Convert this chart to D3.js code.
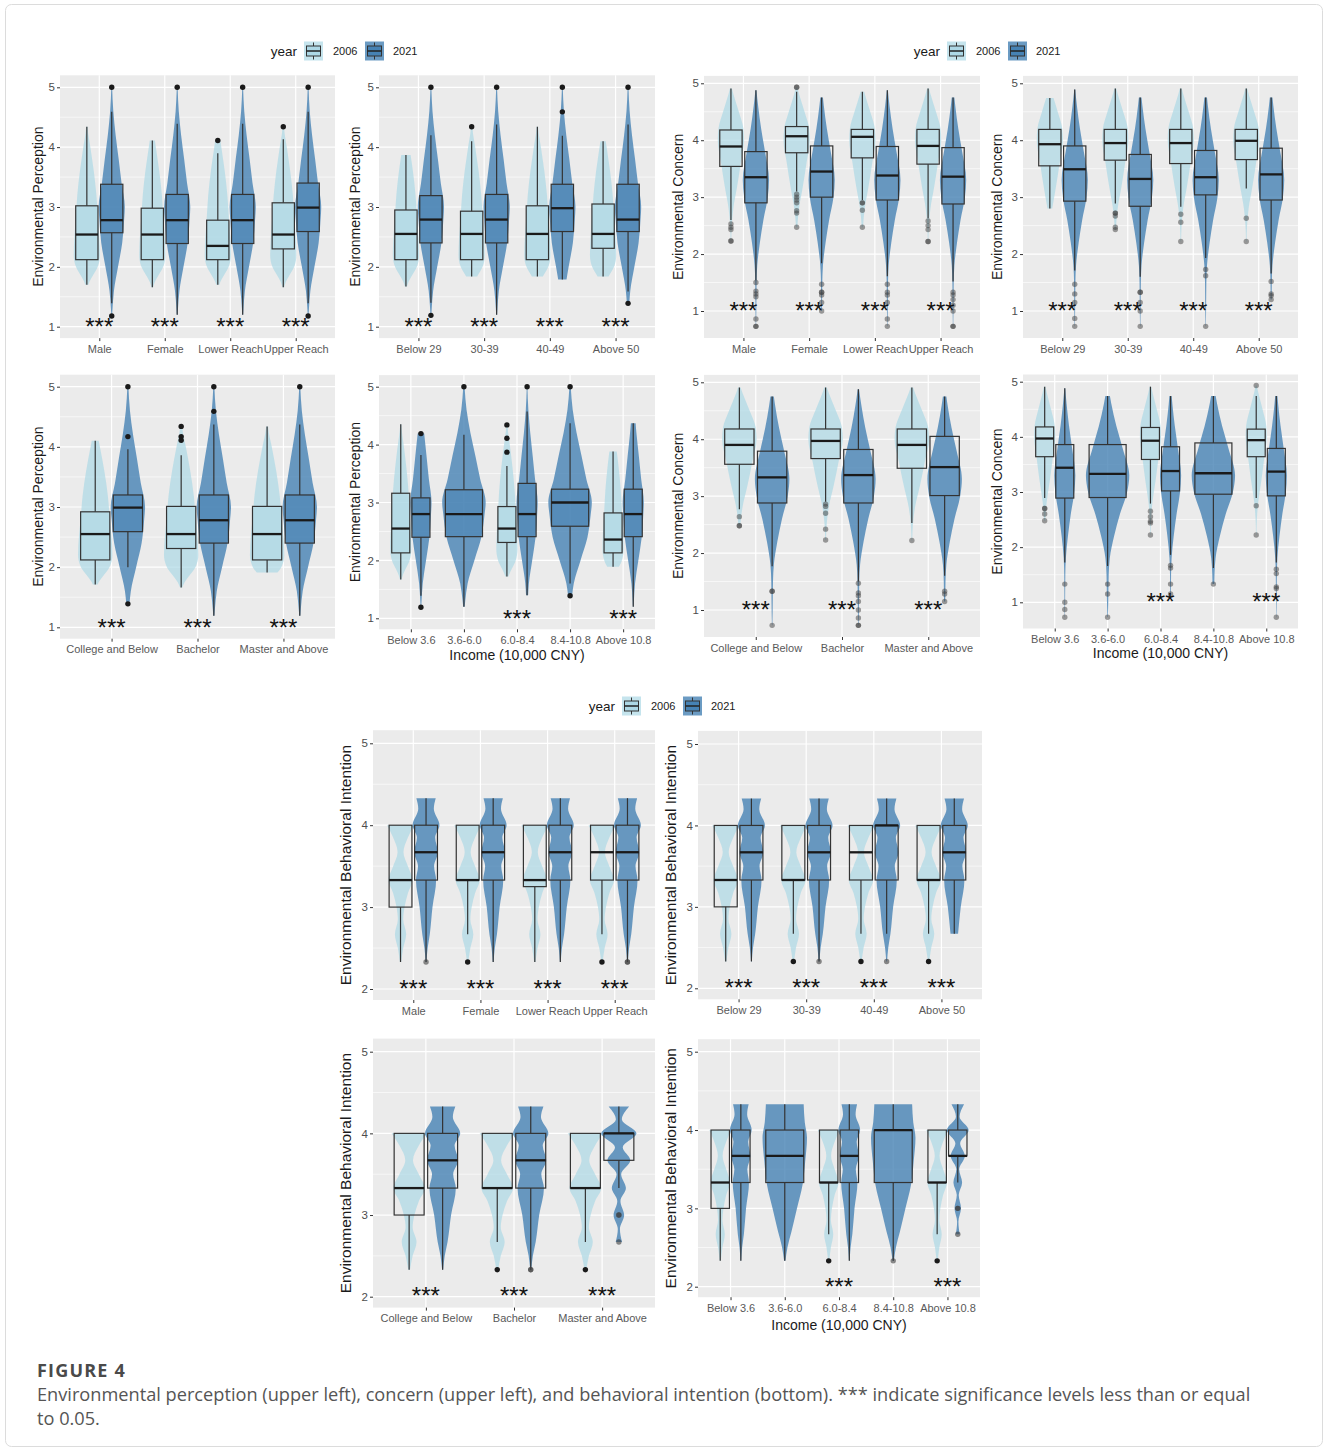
<!DOCTYPE html>
<html>
<head>
<meta charset="utf-8">
<script src="https://cdn.jsdelivr.net/npm/d3@7"></script>
<style>
  body { margin: 0; background: #fff; }
  svg text { font-family: "Liberation Sans", Arial, Helvetica, sans-serif; }
</style>
</head>
<body>
<svg id="fig" width="1328" height="1452"></svg>
<script>
// ---------- data (box stats are [lowWhisker, q1, median, q3, highWhisker]) ----------
const genderCats = ['Male', 'Female', 'Lower Reach', 'Upper Reach'];
const ageCats = ['Below 29', '30-39', '40-49', 'Above 50'];
const eduCats = ['College and Below', 'Bachelor', 'Master and Above'];
const incomeCats = ['Below 3.6', '3.6-6.0', '6.0-8.4', '8.4-10.8', 'Above 10.8'];
const incomeStars = ['6.0-8.4', 'Above 10.8'];

// Environmental perception
const percGender2006 = [[1.70, 2.12, 2.54, 3.02, 4.34], [1.66, 2.12, 2.54, 2.98, 4.11], [1.70, 2.12, 2.35, 2.78, 3.90], [1.66, 2.30, 2.54, 3.07, 4.13]];
const percGender2021 = [[1.39, 2.57, 2.78, 3.38, 4.59], [1.20, 2.39, 2.78, 3.21, 4.39], [1.20, 2.39, 2.78, 3.21, 4.39], [1.39, 2.59, 2.99, 3.40, 4.59]];
const percGenderOut2006 = [[], [], [4.11], [4.34]];
const percGenderOut2021 = [[5.0, 1.18], [5.0], [5.0], [5.0, 1.18]];

const percAge2006 = [[1.67, 2.12, 2.55, 2.95, 3.87], [1.84, 2.12, 2.55, 2.93, 4.10], [1.84, 2.12, 2.55, 3.02, 4.34], [1.84, 2.31, 2.55, 3.05, 4.10]];
const percAge2021 = [[1.40, 2.40, 2.79, 3.19, 4.20], [1.20, 2.40, 2.79, 3.21, 4.38], [1.79, 2.59, 2.98, 3.38, 4.19], [1.59, 2.59, 2.79, 3.38, 4.38]];
const percAgeOut2006 = [[], [4.34], [], []];
const percAgeOut2021 = [[5.0, 1.19], [5.0], [5.0, 4.59], [5.0, 1.39]];

const percEdu2006 = [[1.71, 2.12, 2.55, 2.92, 4.10], [1.66, 2.31, 2.55, 3.01, 3.86], [1.91, 2.12, 2.55, 3.01, 4.34]];
const percEdu2021 = [[2.00, 2.59, 2.99, 3.20, 3.96], [1.19, 2.40, 2.78, 3.20, 4.37], [1.19, 2.40, 2.78, 3.20, 4.37]];
const percEduOut2006 = [[], [4.34, 4.17, 4.11], []];
const percEduOut2021 = [[5.0, 4.17, 1.39], [5.0, 4.59], [5.0]];

const percInc2006 = [[1.67, 2.13, 2.55, 3.16, 4.35], null, [1.72, 2.31, 2.55, 2.93, 3.63], null, [1.89, 2.13, 2.36, 2.82, 3.88]];
const percInc2021 = [[1.39, 2.40, 2.80, 3.08, 3.82], [1.20, 2.41, 2.80, 3.22, 4.17], [1.40, 2.41, 2.80, 3.33, 4.57], [1.60, 2.59, 3.00, 3.23, 4.37], [1.20, 2.41, 2.80, 3.23, 4.37]];
const percIncOut2006 = [[], [], [4.34, 4.11, 3.87], [], []];
const percIncOut2021 = [[4.19, 1.19], [5.0], [5.0], [5.0, 1.39], []];

// Environmental concern
const concGender2006 = [[2.60, 3.54, 3.89, 4.18, 4.91], [3.10, 3.78, 4.07, 4.24, 4.85], [2.95, 3.69, 4.06, 4.19, 4.85], [2.63, 3.58, 3.90, 4.19, 4.91]];
const concGender2021 = [[1.54, 2.90, 3.35, 3.80, 4.88], [1.84, 3.00, 3.45, 3.90, 4.75], [1.61, 2.95, 3.38, 3.89, 4.88], [1.52, 2.88, 3.36, 3.87, 4.75]];
const concGenderOut2006 = [[2.53, 2.47, 2.43, 2.23, 2.23], [4.93, 4.93, 3.05, 3.0, 2.95, 2.9, 2.76, 2.72, 2.47], [2.9, 2.9, 2.77, 2.47], [2.58, 2.5, 2.43, 2.22, 2.22]];
const concGenderOut2021 = [[1.5, 1.35, 1.3, 1.25, 0.86, 0.73, 0.73], [1.47, 1.33, 1.33, 1.28, 1.15, 1.0], [1.47, 1.33, 1.28, 1.15, 0.86, 0.73], [1.33, 1.28, 1.2, 1.1, 1.0, 0.73, 0.73]];

const concAge2006 = [[2.80, 3.55, 3.93, 4.19, 4.74], [2.89, 3.65, 3.95, 4.19, 4.91], [2.83, 3.59, 3.95, 4.19, 4.91], [3.15, 3.66, 3.99, 4.19, 4.91]];
const concAge2021 = [[1.71, 2.93, 3.49, 3.90, 4.89], [1.60, 2.84, 3.32, 3.75, 4.75], [1.93, 3.04, 3.35, 3.82, 4.75], [1.66, 2.95, 3.40, 3.86, 4.75]];
const concAgeOut2006 = [[], [2.72, 2.72, 2.67, 2.47, 2.43], [2.7, 2.56, 2.22], [2.63, 2.22]];
const concAgeOut2021 = [[1.47, 1.3, 1.15, 0.87, 0.73], [1.33, 1.33, 1.15, 1.0, 0.73], [1.73, 1.62, 0.73], [1.52, 1.3, 1.27, 1.2]];

const concEdu2006 = [[2.77, 3.56, 3.90, 4.18, 4.91], [2.90, 3.66, 3.97, 4.18, 4.91], [2.53, 3.49, 3.90, 4.18, 4.91]];
const concEdu2021 = [[1.77, 2.88, 3.33, 3.79, 4.75], [1.50, 2.88, 3.37, 3.82, 4.88], [1.60, 3.01, 3.51, 4.05, 4.75]];
const concEduOut2006 = [[2.64, 2.48, 2.48], [2.86, 2.82, 2.7, 2.42, 2.23], [2.22]];
const concEduOut2021 = [[1.33, 1.33, 0.73], [1.47, 1.3, 1.25, 1.15, 1.0, 0.86, 0.73, 0.73], [1.33, 1.28, 1.15]];

const concInc2006 = [[2.89, 3.64, 3.97, 4.18, 4.91], null, [2.79, 3.59, 3.93, 4.17, 4.91], null, [2.89, 3.64, 3.94, 4.14, 4.74]];
const concInc2021 = [[1.72, 2.89, 3.44, 3.86, 4.88], [1.66, 2.90, 3.33, 3.86, 4.74], [1.86, 3.02, 3.38, 3.82, 4.74], [1.62, 2.96, 3.34, 3.89, 4.74], [1.72, 2.93, 3.37, 3.79, 4.74]];
const concIncOut2006 = [[2.7, 2.7, 2.6, 2.48], [], [2.65, 2.55, 2.47, 2.44, 2.22], [], [4.93, 2.75, 2.22]];
const concIncOut2021 = [[1.33, 1.0, 0.87, 0.73], [1.33, 1.15, 0.73], [1.67, 1.62, 1.33, 1.15], [1.33], [1.6, 1.52, 1.28, 1.25, 0.73]];

// Environmental behavioral intention
const biGender2006 = [[2.33, 3.00, 3.33, 4.00, 4.00], [2.67, 3.33, 3.33, 4.00, 4.00], [2.33, 3.25, 3.33, 4.00, 4.00], [2.67, 3.33, 3.67, 4.00, 4.00]];
const biGender2021 = [[2.33, 3.33, 3.67, 4.00, 4.33], [2.33, 3.33, 3.67, 4.00, 4.33], [2.33, 3.33, 3.67, 4.00, 4.33], [2.33, 3.33, 3.67, 4.00, 4.33]];
const biGenderOut2006 = [[], [2.33], [], [2.33]];
const biGenderOut2021 = [[2.33], [], [], [2.33, 2.33]];

const biAge2006 = [[2.33, 3.00, 3.33, 4.00, 4.00], [2.67, 3.33, 3.33, 4.00, 4.00], [2.67, 3.33, 3.67, 4.00, 4.00], [2.67, 3.33, 3.33, 4.00, 4.00]];
const biAge2021 = [[2.33, 3.33, 3.67, 4.00, 4.33], [2.33, 3.33, 3.67, 4.00, 4.33], [2.67, 3.33, 4.00, 4.00, 4.33], [2.67, 3.33, 3.67, 4.00, 4.33]];
const biAgeOut2006 = [[], [2.33], [2.33], [2.33]];
const biAgeOut2021 = [[], [2.33], [2.33], []];

const biEdu2006 = [[2.33, 3.00, 3.33, 4.00, 4.00], [2.67, 3.33, 3.33, 4.00, 4.00], [2.67, 3.33, 3.33, 4.00, 4.00]];
const biEdu2021 = [[2.33, 3.33, 3.67, 4.00, 4.33], [2.33, 3.33, 3.67, 4.00, 4.33], [3.33, 3.67, 4.00, 4.00, 4.33]];
const biEduOut2006 = [[], [2.33], [2.33]];
const biEduOut2021 = [[], [2.33, 2.33], [3.0, 3.0, 2.67]];

const biInc2006 = [[2.33, 3.00, 3.33, 4.00, 4.00], null, [2.67, 3.33, 3.33, 4.00, 4.00], null, [2.67, 3.33, 3.33, 4.00, 4.00]];
const biInc2021 = [[2.33, 3.33, 3.67, 4.00, 4.33], [2.33, 3.33, 3.67, 4.00, 4.33], [2.33, 3.33, 3.67, 4.00, 4.33], [2.33, 3.33, 4.00, 4.00, 4.33], [3.33, 3.67, 3.67, 4.00, 4.33]];
const biIncOut2006 = [[], [], [2.33], [], [2.33]];
const biIncOut2021 = [[], [], [], [2.33], [3.0, 3.0, 2.67]];

// violin outlines: [score, relative width]
const percShape2006 = [[1.65, 0.05], [1.75, 0.2], [1.85, 0.45], [2.0, 0.83], [2.2, 1.0], [2.5, 0.95], [2.8, 0.85], [3.2, 0.73], [3.6, 0.53], [4.0, 0.27], [4.3, 0.07], [4.5, 0.02]];
const percShape2021 = [[1.15, 0.02], [1.3, 0.06], [1.6, 0.17], [2.0, 0.48], [2.4, 0.8], [2.8, 0.95], [3.0, 1.0], [3.4, 0.75], [3.8, 0.53], [4.2, 0.3], [4.6, 0.12], [5.0, 0.03]];
const concShape2006 = [[2.2, 0.02], [2.5, 0.06], [2.8, 0.18], [3.2, 0.48], [3.6, 0.75], [4.0, 1.0], [4.2, 0.95], [4.5, 0.6], [4.8, 0.2], [4.95, 0.03]];
const concShape2021 = [[0.7, 0.01], [1.0, 0.03], [1.5, 0.05], [1.8, 0.1], [2.2, 0.3], [2.6, 0.57], [3.0, 0.9], [3.3, 1.0], [3.8, 0.69], [4.2, 0.4], [4.6, 0.17], [4.9, 0.03]];
const biShape2006 = [[2.33, 0.05], [2.5, 0.2], [2.67, 0.42], [2.85, 0.2], [3.0, 0.3], [3.17, 0.55], [3.33, 0.9], [3.5, 0.55], [3.67, 0.22], [3.85, 0.55], [4.0, 1.0]];
const biShape2021 = [[2.33, 0.03], [2.5, 0.12], [2.67, 0.28], [3.0, 0.48], [3.33, 0.75], [3.5, 0.6], [3.67, 0.88], [3.85, 0.68], [4.0, 1.0], [4.2, 0.58], [4.33, 0.72]];
const biShapeWavy = [[2.67, 0.18], [2.83, 0.06], [3.0, 0.3], [3.17, 0.09], [3.33, 0.4], [3.5, 0.13], [3.67, 0.65], [3.83, 0.22], [4.0, 1.0], [4.17, 0.17], [4.33, 0.58]];
const biShapeSingle = [[2.33, 0.03], [2.5, 0.12], [2.7, 0.3], [3.0, 0.55], [3.3, 0.8], [3.6, 0.92], [3.9, 1.0], [4.1, 0.9], [4.33, 0.85]];

// ---------- drawing ----------
const FONT = '"Liberation Sans", Arial, Helvetica, sans-serif';
const svg = d3.select('#fig');
const c06 = '#add8e6', c21 = '#4682b4';

svg.append('rect').attr('x', 5.5).attr('y', 4.5).attr('width', 1317).attr('height', 1442)
  .attr('rx', 6).attr('fill', '#fff').attr('stroke', '#dcdcdc');

const percLook = { boxFill: true, dot06: ['#1a1a1a', 1], dot21: ['#1a1a1a', 1] };
const concLook = { boxFill: false, dot06: ['#404040', 0.5], dot21: ['#404040', 0.5] };
const biLook = { boxFill: false, dot06: ['#1a1a1a', 1], dot21: ['#404040', 0.6] };

const panels = [
  { x0: 60, x1: 335, y0: 75.3, y1: 338.1, tA: 5, pA: 87.3, tB: 1, pB: 326.7, ticks: [1, 2, 3, 4, 5], minor: [1.5, 2.5, 3.5, 4.5],
    cats: genderCats, s06: percGender2006, s21: percGender2021, o06: percGenderOut2006, o21: percGenderOut2021, stars: genderCats,
    sh06: percShape2006, sh21: percShape2021, shSingle: percShape2021, look: percLook, starY: 1.08, title: 'Environmental Perception', titleX: 38, titleSize: 14 },
  { x0: 379, x1: 655, y0: 75.3, y1: 338.1, tA: 5, pA: 87.3, tB: 1, pB: 326.7, ticks: [1, 2, 3, 4, 5], minor: [1.5, 2.5, 3.5, 4.5],
    cats: ageCats, s06: percAge2006, s21: percAge2021, o06: percAgeOut2006, o21: percAgeOut2021, stars: ageCats,
    sh06: percShape2006, sh21: percShape2021, shSingle: percShape2021, look: percLook, starY: 1.08, title: 'Environmental Perception', titleX: 355, titleSize: 14 },
  { x0: 60, x1: 335, y0: 374.7, y1: 638.7, tA: 5, pA: 386.7, tB: 1, pB: 627.3, ticks: [1, 2, 3, 4, 5], minor: [1.5, 2.5, 3.5, 4.5],
    cats: eduCats, s06: percEdu2006, s21: percEdu2021, o06: percEduOut2006, o21: percEduOut2021, stars: eduCats,
    sh06: percShape2006, sh21: percShape2021, shSingle: percShape2021, look: percLook, starY: 1.08, title: 'Environmental Perception', titleX: 38, titleSize: 14 },
  { x0: 379, x1: 655, y0: 375.1, y1: 629.3, tA: 5, pA: 386.7, tB: 1, pB: 618.3, ticks: [1, 2, 3, 4, 5], minor: [1.5, 2.5, 3.5, 4.5],
    cats: incomeCats, s06: percInc2006, s21: percInc2021, o06: percIncOut2006, o21: percIncOut2021, stars: incomeStars,
    sh06: percShape2006, sh21: percShape2021, shSingle: percShape2021, look: percLook, starY: 1.08, title: 'Environmental Perception', titleX: 355, titleSize: 14,
    xTitle: 'Income (10,000 CNY)', xTitleY: 655 },

  { x0: 704, x1: 980, y0: 75.9, y1: 338, tA: 5, pA: 83.3, tB: 1, pB: 311, ticks: [1, 2, 3, 4, 5], minor: [1.5, 2.5, 3.5, 4.5],
    cats: genderCats, s06: concGender2006, s21: concGender2021, o06: concGenderOut2006, o21: concGenderOut2021, stars: genderCats,
    sh06: concShape2006, sh21: concShape2021, shSingle: concShape2021, look: concLook, starY: 1.1, title: 'Environmental Concern', titleX: 678, titleSize: 14 },
  { x0: 1023, x1: 1298, y0: 75.9, y1: 338, tA: 5, pA: 83.3, tB: 1, pB: 311, ticks: [1, 2, 3, 4, 5], minor: [1.5, 2.5, 3.5, 4.5],
    cats: ageCats, s06: concAge2006, s21: concAge2021, o06: concAgeOut2006, o21: concAgeOut2021, stars: ageCats,
    sh06: concShape2006, sh21: concShape2021, shSingle: concShape2021, look: concLook, starY: 1.1, title: 'Environmental Concern', titleX: 997, titleSize: 14 },
  { x0: 704, x1: 980, y0: 374.9, y1: 637, tA: 5, pA: 382.3, tB: 1, pB: 610, ticks: [1, 2, 3, 4, 5], minor: [1.5, 2.5, 3.5, 4.5],
    cats: eduCats, s06: concEdu2006, s21: concEdu2021, o06: concEduOut2006, o21: concEduOut2021, stars: eduCats,
    sh06: concShape2006, sh21: concShape2021, shSingle: concShape2021, look: concLook, starY: 1.1, title: 'Environmental Concern', titleX: 678, titleSize: 14 },
  { x0: 1023, x1: 1298, y0: 374.5, y1: 628.5, tA: 5, pA: 381.7, tB: 1, pB: 602.3, ticks: [1, 2, 3, 4, 5], minor: [1.5, 2.5, 3.5, 4.5],
    cats: incomeCats, s06: concInc2006, s21: concInc2021, o06: concIncOut2006, o21: concIncOut2021, stars: incomeStars,
    sh06: concShape2006, sh21: concShape2021, shSingle: concShape2021, look: concLook, starY: 1.1, title: 'Environmental Concern', titleX: 997, titleSize: 14,
    xTitle: 'Income (10,000 CNY)', xTitleY: 653 },

  { x0: 373, x1: 655, y0: 730.2, y1: 1000, tA: 5, pA: 743.3, tB: 2, pB: 989, ticks: [2, 3, 4, 5], minor: [2.5, 3.5, 4.5],
    cats: genderCats, s06: biGender2006, s21: biGender2021, o06: biGenderOut2006, o21: biGenderOut2021, stars: genderCats,
    sh06: biShape2006, sh21: biShape2021, shSingle: biShapeSingle, look: biLook, starY: 2.07, title: 'Environmental Behavioral Intention', titleX: 345, titleSize: 15.5 },
  { x0: 698, x1: 982, y0: 730.9, y1: 999.3, tA: 5, pA: 744, tB: 2, pB: 988.3, ticks: [2, 3, 4, 5], minor: [2.5, 3.5, 4.5],
    cats: ageCats, s06: biAge2006, s21: biAge2021, o06: biAgeOut2006, o21: biAgeOut2021, stars: ageCats,
    sh06: biShape2006, sh21: biShape2021, shSingle: biShapeSingle, look: biLook, starY: 2.07, title: 'Environmental Behavioral Intention', titleX: 670, titleSize: 15.5 },
  { x0: 373, x1: 655, y0: 1038.6, y1: 1307.6, tA: 5, pA: 1051.7, tB: 2, pB: 1296.7, ticks: [2, 3, 4, 5], minor: [2.5, 3.5, 4.5],
    cats: eduCats, s06: biEdu2006, s21: biEdu2021, o06: biEduOut2006, o21: biEduOut2021, stars: eduCats,
    sh06: biShape2006, sh21: biShape2021, shSingle: biShapeSingle, wavy: ['Master and Above'], look: biLook, starY: 2.07,
    title: 'Environmental Behavioral Intention', titleX: 345, titleSize: 15.5 },
  { x0: 698, x1: 980, y0: 1039.2, y1: 1297.2, tA: 5, pA: 1051.7, tB: 2, pB: 1286.7, ticks: [2, 3, 4, 5], minor: [2.5, 3.5, 4.5],
    cats: incomeCats, s06: biInc2006, s21: biInc2021, o06: biIncOut2006, o21: biIncOut2021, stars: incomeStars,
    sh06: biShape2006, sh21: biShape2021, shSingle: biShapeSingle, wavy: ['Above 10.8'], look: biLook, starY: 2.07,
    title: 'Environmental Behavioral Intention', titleX: 670, titleSize: 15.5, xTitle: 'Income (10,000 CNY)', xTitleY: 1325 }
];

function widthAt(shape, v) {
  if (v <= shape[0][0]) return shape[0][1];
  const last = shape[shape.length - 1];
  if (v >= last[0]) return last[1];
  const i = d3.bisector(d => d[0]).right(shape, v);
  const a = shape[i - 1], b = shape[i];
  return a[1] + (b[1] - a[1]) * (v - a[0]) / (b[0] - a[0]);
}

function clipShape(shape, lo, hi) {
  const inner = shape.filter(d => d[0] > lo + 0.005 && d[0] < hi - 0.005);
  return [[lo, widthAt(shape, lo)], ...inner, [hi, widthAt(shape, hi)]];
}

function drawPanel(p) {
  const g = svg.append('g');
  const x = d3.scalePoint().domain(p.cats).range([p.x0, p.x1]).padding(0.6);
  const y = d3.scaleLinear().domain([p.tA, p.tB]).range([p.pA, p.pB]);
  const step = x.step();

  g.append('rect').attr('x', p.x0).attr('y', p.y0).attr('width', p.x1 - p.x0).attr('height', p.y1 - p.y0).attr('fill', '#ebebeb');
  g.selectAll('.minor').data(p.minor).join('line')
    .attr('x1', p.x0).attr('x2', p.x1).attr('y1', d => y(d)).attr('y2', d => y(d))
    .attr('stroke', '#fff').attr('stroke-width', 0.6);
  g.selectAll('.major').data(p.ticks).join('line')
    .attr('x1', p.x0).attr('x2', p.x1).attr('y1', d => y(d)).attr('y2', d => y(d))
    .attr('stroke', '#fff').attr('stroke-width', 1.2);
  g.selectAll('.vgrid').data(p.cats).join('line')
    .attr('x1', d => x(d)).attr('x2', d => x(d)).attr('y1', p.y0).attr('y2', p.y1)
    .attr('stroke', '#fff').attr('stroke-width', 1.2);

  // one entry per drawn group
  const groups = [];
  p.cats.forEach((c, i) => {
    const a = p.s06[i], b = p.s21[i];
    const wavy = p.wavy && p.wavy.includes(c);
    if (a && b) {
      groups.push({ st: a, out: p.o06[i], color: c06, op: 0.7, dot: p.look.dot06, cx: x(c) - 0.19 * step, bw: 0.34 * step, vw: 0.4 * step, shape: p.sh06 });
      groups.push({ st: b, out: p.o21[i], color: c21, op: 0.8, dot: p.look.dot21, cx: x(c) + 0.19 * step, bw: 0.34 * step, vw: 0.4 * step, shape: wavy ? biShapeWavy : p.sh21 });
    } else {
      groups.push({ st: b, out: p.o21[i], color: c21, op: 0.8, dot: p.look.dot21, cx: x(c), bw: 0.7 * step, vw: 0.82 * step, shape: p.shSingle });
    }
  });

  const area = d3.area().curve(d3.curveMonotoneY);
  groups.forEach(gr => {
    const lo = d3.min([gr.st[0], ...gr.out]);
    const hi = d3.max([gr.st[4], ...gr.out]);
    const prof = clipShape(gr.shape, lo, hi).slice().reverse();
    area.y(d => y(d[0])).x0(d => gr.cx - d[1] * gr.vw / 2).x1(d => gr.cx + d[1] * gr.vw / 2);
    g.append('path').attr('d', area(prof)).attr('fill', gr.color).attr('fill-opacity', gr.op);
  });

  groups.forEach(gr => {
    const [lo, q1, med, q3, hi] = gr.st;
    g.append('line').attr('x1', gr.cx).attr('x2', gr.cx).attr('y1', y(q3)).attr('y2', y(hi)).attr('stroke', '#333').attr('stroke-width', 1.2);
    g.append('line').attr('x1', gr.cx).attr('x2', gr.cx).attr('y1', y(q1)).attr('y2', y(lo)).attr('stroke', '#333').attr('stroke-width', 1.2);
    g.append('rect').attr('x', gr.cx - gr.bw / 2).attr('y', y(q3)).attr('width', gr.bw).attr('height', Math.max(0.5, y(q1) - y(q3)))
      .attr('fill', p.look.boxFill ? gr.color : 'none').attr('fill-opacity', 0.5)
      .attr('stroke', '#333').attr('stroke-width', 1.2);
    g.append('line').attr('x1', gr.cx - gr.bw / 2).attr('x2', gr.cx + gr.bw / 2).attr('y1', y(med)).attr('y2', y(med))
      .attr('stroke', '#1a1a1a').attr('stroke-width', 2.3);
    g.selectAll(null).data(gr.out).join('circle')
      .attr('cx', gr.cx).attr('cy', d => y(d)).attr('r', 2.7)
      .attr('fill', gr.dot[0]).attr('fill-opacity', gr.dot[1]);
  });

  g.selectAll('.star').data(p.stars).join('text')
    .attr('x', d => x(d)).attr('y', y(p.starY) + 13.5)
    .attr('text-anchor', 'middle').attr('font-size', 24).attr('fill', '#111').text('***');

  const ya = g.append('g').attr('transform', `translate(${p.x0},0)`)
    .call(d3.axisLeft(y).tickValues(p.ticks).tickSize(3).tickPadding(2).tickFormat(d3.format('d')));
  const xa = g.append('g').attr('transform', `translate(0,${p.y1})`)
    .call(d3.axisBottom(x).tickSize(3).tickPadding(4));
  [ya, xa].forEach(a => {
    a.attr('font-family', FONT);
    a.select('.domain').remove();
    a.selectAll('.tick line').attr('stroke', '#333');
  });
  ya.selectAll('.tick text').attr('font-size', 11.5).attr('fill', '#4d4d4d');
  xa.selectAll('.tick text').attr('font-size', 11).attr('fill', '#595959');

  g.append('text').attr('transform', `translate(${p.titleX},${(p.y0 + p.y1) / 2}) rotate(-90)`)
    .attr('text-anchor', 'middle').attr('dominant-baseline', 'central')
    .attr('font-size', p.titleSize).attr('fill', '#1a1a1a').text(p.title);
  if (p.xTitle) {
    g.append('text').attr('x', (p.x0 + p.x1) / 2).attr('y', p.xTitleY)
      .attr('text-anchor', 'middle').attr('dominant-baseline', 'central')
      .attr('font-size', 14).attr('fill', '#1a1a1a').text(p.xTitle);
  }
}

panels.forEach(drawPanel);

// legends
function legendKey(g, xk, yc, color, op) {
  g.append('rect').attr('x', xk).attr('y', yc - 9.5).attr('width', 19).attr('height', 19).attr('fill', color).attr('fill-opacity', op);
  g.append('line').attr('x1', xk + 9.5).attr('x2', xk + 9.5).attr('y1', yc - 8.5).attr('y2', yc + 8.5).attr('stroke', '#333').attr('stroke-width', 1);
  g.append('rect').attr('x', xk + 2.5).attr('y', yc - 5).attr('width', 14).attr('height', 10).attr('fill', color).attr('stroke', '#333').attr('stroke-width', 1);
  g.append('line').attr('x1', xk + 2.5).attr('x2', xk + 16.5).attr('y1', yc).attr('y2', yc).attr('stroke', '#222').attr('stroke-width', 1.5);
}
function legend(xEnd, yc) {
  const g = svg.append('g');
  g.append('text').attr('x', xEnd).attr('y', yc).attr('text-anchor', 'end').attr('dominant-baseline', 'central')
    .attr('font-size', 13.5).attr('fill', '#1a1a1a').text('year');
  legendKey(g, xEnd + 7, yc, c06, 0.7);
  g.append('text').attr('x', xEnd + 36).attr('y', yc).attr('dominant-baseline', 'central').attr('font-size', 11).attr('fill', '#1a1a1a').text('2006');
  legendKey(g, xEnd + 68, yc, c21, 0.8);
  g.append('text').attr('x', xEnd + 96).attr('y', yc).attr('dominant-baseline', 'central').attr('font-size', 11).attr('fill', '#1a1a1a').text('2021');
}
legend(297, 51);
legend(940, 51);
legend(615, 706);

// caption
const CAP = '"Open Sans", "Noto Sans", sans-serif';
svg.append('text').attr('x', 37).attr('y', 1377).attr('font-size', 18).attr('font-weight', 'bold')
  .attr('letter-spacing', 1.2).attr('fill', '#4a4a4a').style('font-family', CAP).text('FIGURE 4');
svg.append('text').attr('x', 37).attr('y', 1401).attr('font-size', 18.2).attr('fill', '#555').style('font-family', CAP)
  .text('Environmental perception (upper left), concern (upper left), and behavioral intention (bottom). *** indicate significance levels less than or equal');
svg.append('text').attr('x', 37).attr('y', 1425).attr('font-size', 18.2).attr('fill', '#555').style('font-family', CAP)
  .text('to 0.05.');
</script>
</body>
</html>
